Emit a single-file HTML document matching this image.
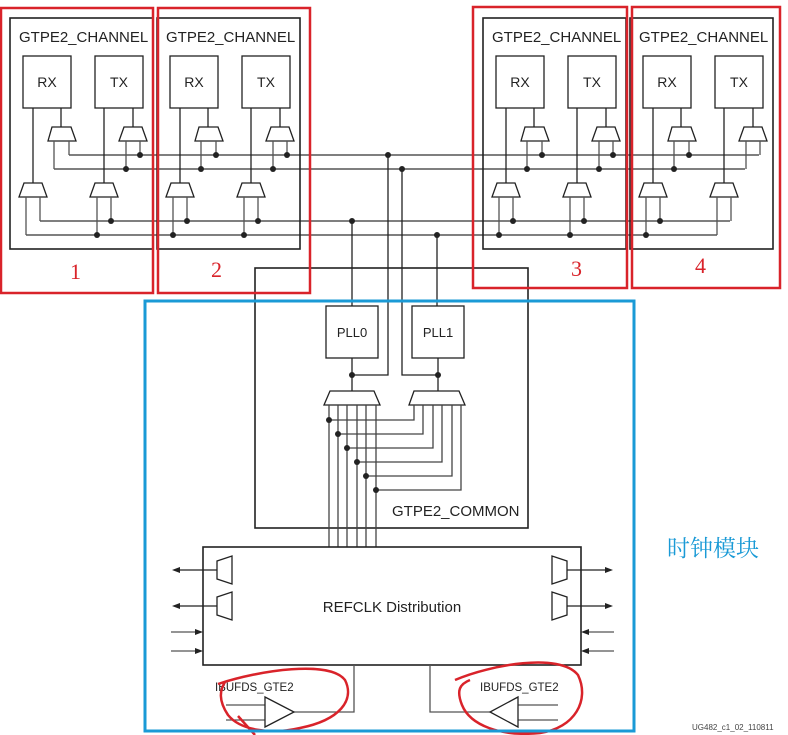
<!DOCTYPE html>
<html><head><meta charset="utf-8"><style>
html,body{margin:0;padding:0;background:#fff;}
svg{display:block;}
text{font-family:"Liberation Sans",sans-serif;}
.red{font-family:"Liberation Serif",serif;}
.cjk{font-family:"Noto Serif CJK SC","WenQuanYi Zen Hei",serif;}
</style></head><body>
<svg width="788" height="735" viewBox="0 0 788 735" xmlns="http://www.w3.org/2000/svg">
<defs>
<g id="ch" fill="none" stroke="#222" stroke-width="1.3">
  <rect x="10" y="18" width="143" height="231" stroke-width="1.6"/>
  <rect x="23" y="56" width="48" height="52"/>
  <rect x="95" y="56" width="48" height="52"/>
  <line x1="33" y1="108" x2="33" y2="183"/>
  <line x1="61" y1="108" x2="61" y2="127"/>
  <line x1="104" y1="108" x2="104" y2="183"/>
  <line x1="133" y1="108" x2="133" y2="127"/>
  <polygon points="52,127 71,127 76,141 48,141" fill="#fff"/>
  <polygon points="124,127 142,127 147,141 119,141" fill="#fff"/>
  <polygon points="24,183 42,183 47,197 19,197" fill="#fff"/>
  <polygon points="95,183 113,183 118,197 90,197" fill="#fff"/>
  <g stroke="#555">
  <line x1="54" y1="141" x2="54" y2="169"/>
  <line x1="69" y1="141" x2="69" y2="155"/>
  <line x1="126" y1="141" x2="126" y2="169"/>
  <line x1="140" y1="141" x2="140" y2="155"/>
  <line x1="26" y1="197" x2="26" y2="235"/>
  <line x1="40" y1="197" x2="40" y2="221"/>
  <line x1="97" y1="197" x2="97" y2="235"/>
  <line x1="111" y1="197" x2="111" y2="221"/>
  </g>
</g>
<g id="chtxt" font-size="15" fill="#222">
  <text x="19" y="42">GTPE2_CHANNEL</text>
  <text x="47" y="87" text-anchor="middle" font-size="14">RX</text>
  <text x="119" y="87" text-anchor="middle" font-size="14">TX</text>
</g>
</defs>

<g stroke="#333" stroke-width="1.2">
<line x1="69" y1="155" x2="759" y2="155"/>
<line x1="54" y1="169" x2="745" y2="169"/>
<line x1="40" y1="221" x2="730" y2="221"/>
<line x1="26" y1="235" x2="717" y2="235"/>
</g>

<use href="#ch" x="0"/><use href="#chtxt" x="0"/>
<use href="#ch" x="147"/><use href="#chtxt" x="147"/>
<use href="#ch" x="473"/><use href="#chtxt" x="473"/>
<use href="#ch" x="620"/><use href="#chtxt" x="620"/>

<g fill="#222">
<circle cx="126" cy="169" r="3"/><circle cx="140" cy="155" r="3"/><circle cx="97" cy="235" r="3"/><circle cx="111" cy="221" r="3"/>
<circle cx="201" cy="169" r="3"/><circle cx="216" cy="155" r="3"/><circle cx="173" cy="235" r="3"/><circle cx="187" cy="221" r="3"/>
<circle cx="273" cy="169" r="3"/><circle cx="287" cy="155" r="3"/><circle cx="244" cy="235" r="3"/><circle cx="258" cy="221" r="3"/>
<circle cx="527" cy="169" r="3"/><circle cx="542" cy="155" r="3"/><circle cx="499" cy="235" r="3"/><circle cx="513" cy="221" r="3"/>
<circle cx="599" cy="169" r="3"/><circle cx="613" cy="155" r="3"/><circle cx="570" cy="235" r="3"/><circle cx="584" cy="221" r="3"/>
<circle cx="674" cy="169" r="3"/><circle cx="689" cy="155" r="3"/><circle cx="646" cy="235" r="3"/><circle cx="660" cy="221" r="3"/>
<circle cx="388" cy="155" r="3"/><circle cx="402" cy="169" r="3"/><circle cx="352" cy="221" r="3"/><circle cx="437" cy="235" r="3"/>
</g>

<g fill="none" stroke="#222" stroke-width="1.3">
<rect x="255" y="268" width="273" height="260" stroke-width="1.6"/>
<line x1="352" y1="221" x2="352" y2="306"/>
<polyline points="388,155 388,375 352,375"/>
<polyline points="402,169 402,375 438,375"/>
<line x1="437" y1="235" x2="437" y2="306"/>
<rect x="326" y="306" width="52" height="52" fill="#fff"/>
<rect x="412" y="306" width="52" height="52" fill="#fff"/>
<line x1="352" y1="358" x2="352" y2="391"/>
<line x1="438" y1="358" x2="438" y2="391"/>
<polygon points="330,391 374,391 380,405 324,405" fill="#fff"/>
<polygon points="414,391 459,391 465,405 409,405" fill="#fff"/>
<g stroke="#444">
<line x1="329" y1="405" x2="329" y2="547"/>
<line x1="338" y1="405" x2="338" y2="547"/>
<line x1="347" y1="405" x2="347" y2="547"/>
<line x1="357" y1="405" x2="357" y2="547"/>
<line x1="366" y1="405" x2="366" y2="547"/>
<line x1="376" y1="405" x2="376" y2="547"/>
<polyline points="414,405 414,420 329,420"/>
<polyline points="423,405 423,434 338,434"/>
<polyline points="433,405 433,448 347,448"/>
<polyline points="442,405 442,462 357,462"/>
<polyline points="452,405 452,476 366,476"/>
<polyline points="461,405 461,490 376,490"/>
</g>
</g>
<g fill="#222">
<circle cx="352" cy="375" r="3"/><circle cx="438" cy="375" r="3"/>
<circle cx="329" cy="420" r="3"/><circle cx="338" cy="434" r="3"/><circle cx="347" cy="448" r="3"/>
<circle cx="357" cy="462" r="3"/><circle cx="366" cy="476" r="3"/><circle cx="376" cy="490" r="3"/>
</g>
<g font-size="15" fill="#222">
<text x="352" y="337" text-anchor="middle" font-size="13">PLL0</text>
<text x="438" y="337" text-anchor="middle" font-size="13">PLL1</text>
<text x="392" y="516">GTPE2_COMMON</text>
<text x="392" y="612" text-anchor="middle">REFCLK Distribution</text>
<text x="215" y="691" font-size="11.5">IBUFDS_GTE2</text>
<text x="480" y="691" font-size="11.5">IBUFDS_GTE2</text>
</g>

<g fill="none" stroke="#222" stroke-width="1.3">
<rect x="203" y="547" width="378" height="118" stroke-width="1.6"/>
<polygon points="217,561 232,556 232,584 217,579"/>
<polygon points="217,597 232,592 232,620 217,615"/>
<polygon points="567,561 552,556 552,584 567,579"/>
<polygon points="567,597 552,592 552,620 567,615"/>
<line x1="217" y1="570" x2="178" y2="570"/>
<line x1="217" y1="606" x2="178" y2="606"/>
<line x1="567" y1="570" x2="607" y2="570"/>
<line x1="567" y1="606" x2="607" y2="606"/>
<g stroke="#555">
<line x1="171" y1="632" x2="197" y2="632"/>
<line x1="171" y1="651" x2="197" y2="651"/>
<line x1="588" y1="632" x2="614" y2="632"/>
<line x1="588" y1="651" x2="614" y2="651"/>
<polyline points="294,712 354,712 354,665"/>
<polyline points="490,712 430,712 430,665"/>
<line x1="226" y1="705" x2="265" y2="705"/>
<line x1="226" y1="720" x2="265" y2="720"/>
<line x1="518" y1="705" x2="558" y2="705"/>
<line x1="518" y1="720" x2="558" y2="720"/>
</g>
<polygon points="265,697 294,712 265,727" fill="#fff"/>
<polygon points="518,697 490,712 518,727" fill="#fff"/>
</g>
<g fill="#222">
<polygon points="172,570 180,567 180,573"/>
<polygon points="172,606 180,603 180,609"/>
<polygon points="613,570 605,567 605,573"/>
<polygon points="613,606 605,603 605,609"/>
<polygon points="203,632 195,629 195,635"/>
<polygon points="203,651 195,648 195,654"/>
<polygon points="581,632 589,629 589,635"/>
<polygon points="581,651 589,648 589,654"/>
</g>

<g fill="none" stroke="#d9232a" stroke-width="2.5">
<rect x="1" y="8" width="152" height="285"/>
<rect x="158" y="8" width="152" height="285"/>
<rect x="473" y="7" width="154" height="281"/>
<rect x="632" y="7" width="148" height="281"/>
<path d="M218,684 C260,670 330,660 345,680 C355,700 340,720 300,728 C270,735 240,730 228,715 C218,700 220,690 225,682"/>
<path d="M238,716 L255,735"/>
<path d="M455,680 C490,665 560,652 578,675 C590,700 575,728 540,733 C500,737 470,725 462,705 C456,690 460,684 470,680"/>
</g>
<g font-size="22" fill="#d9232a">
<text class="red" x="70" y="279">1</text>
<text class="red" x="211" y="277">2</text>
<text class="red" x="571" y="276">3</text>
<text class="red" x="695" y="273">4</text>
</g>

<rect x="145" y="301" width="489" height="430" fill="none" stroke="#1a9ad6" stroke-width="3"/>
<text class="cjk" x="667" y="556" font-size="23" fill="#1a9ad6">时钟模块</text>
<text x="692" y="730" font-size="8" fill="#444">UG482_c1_02_110811</text>
</svg>
</body></html>
